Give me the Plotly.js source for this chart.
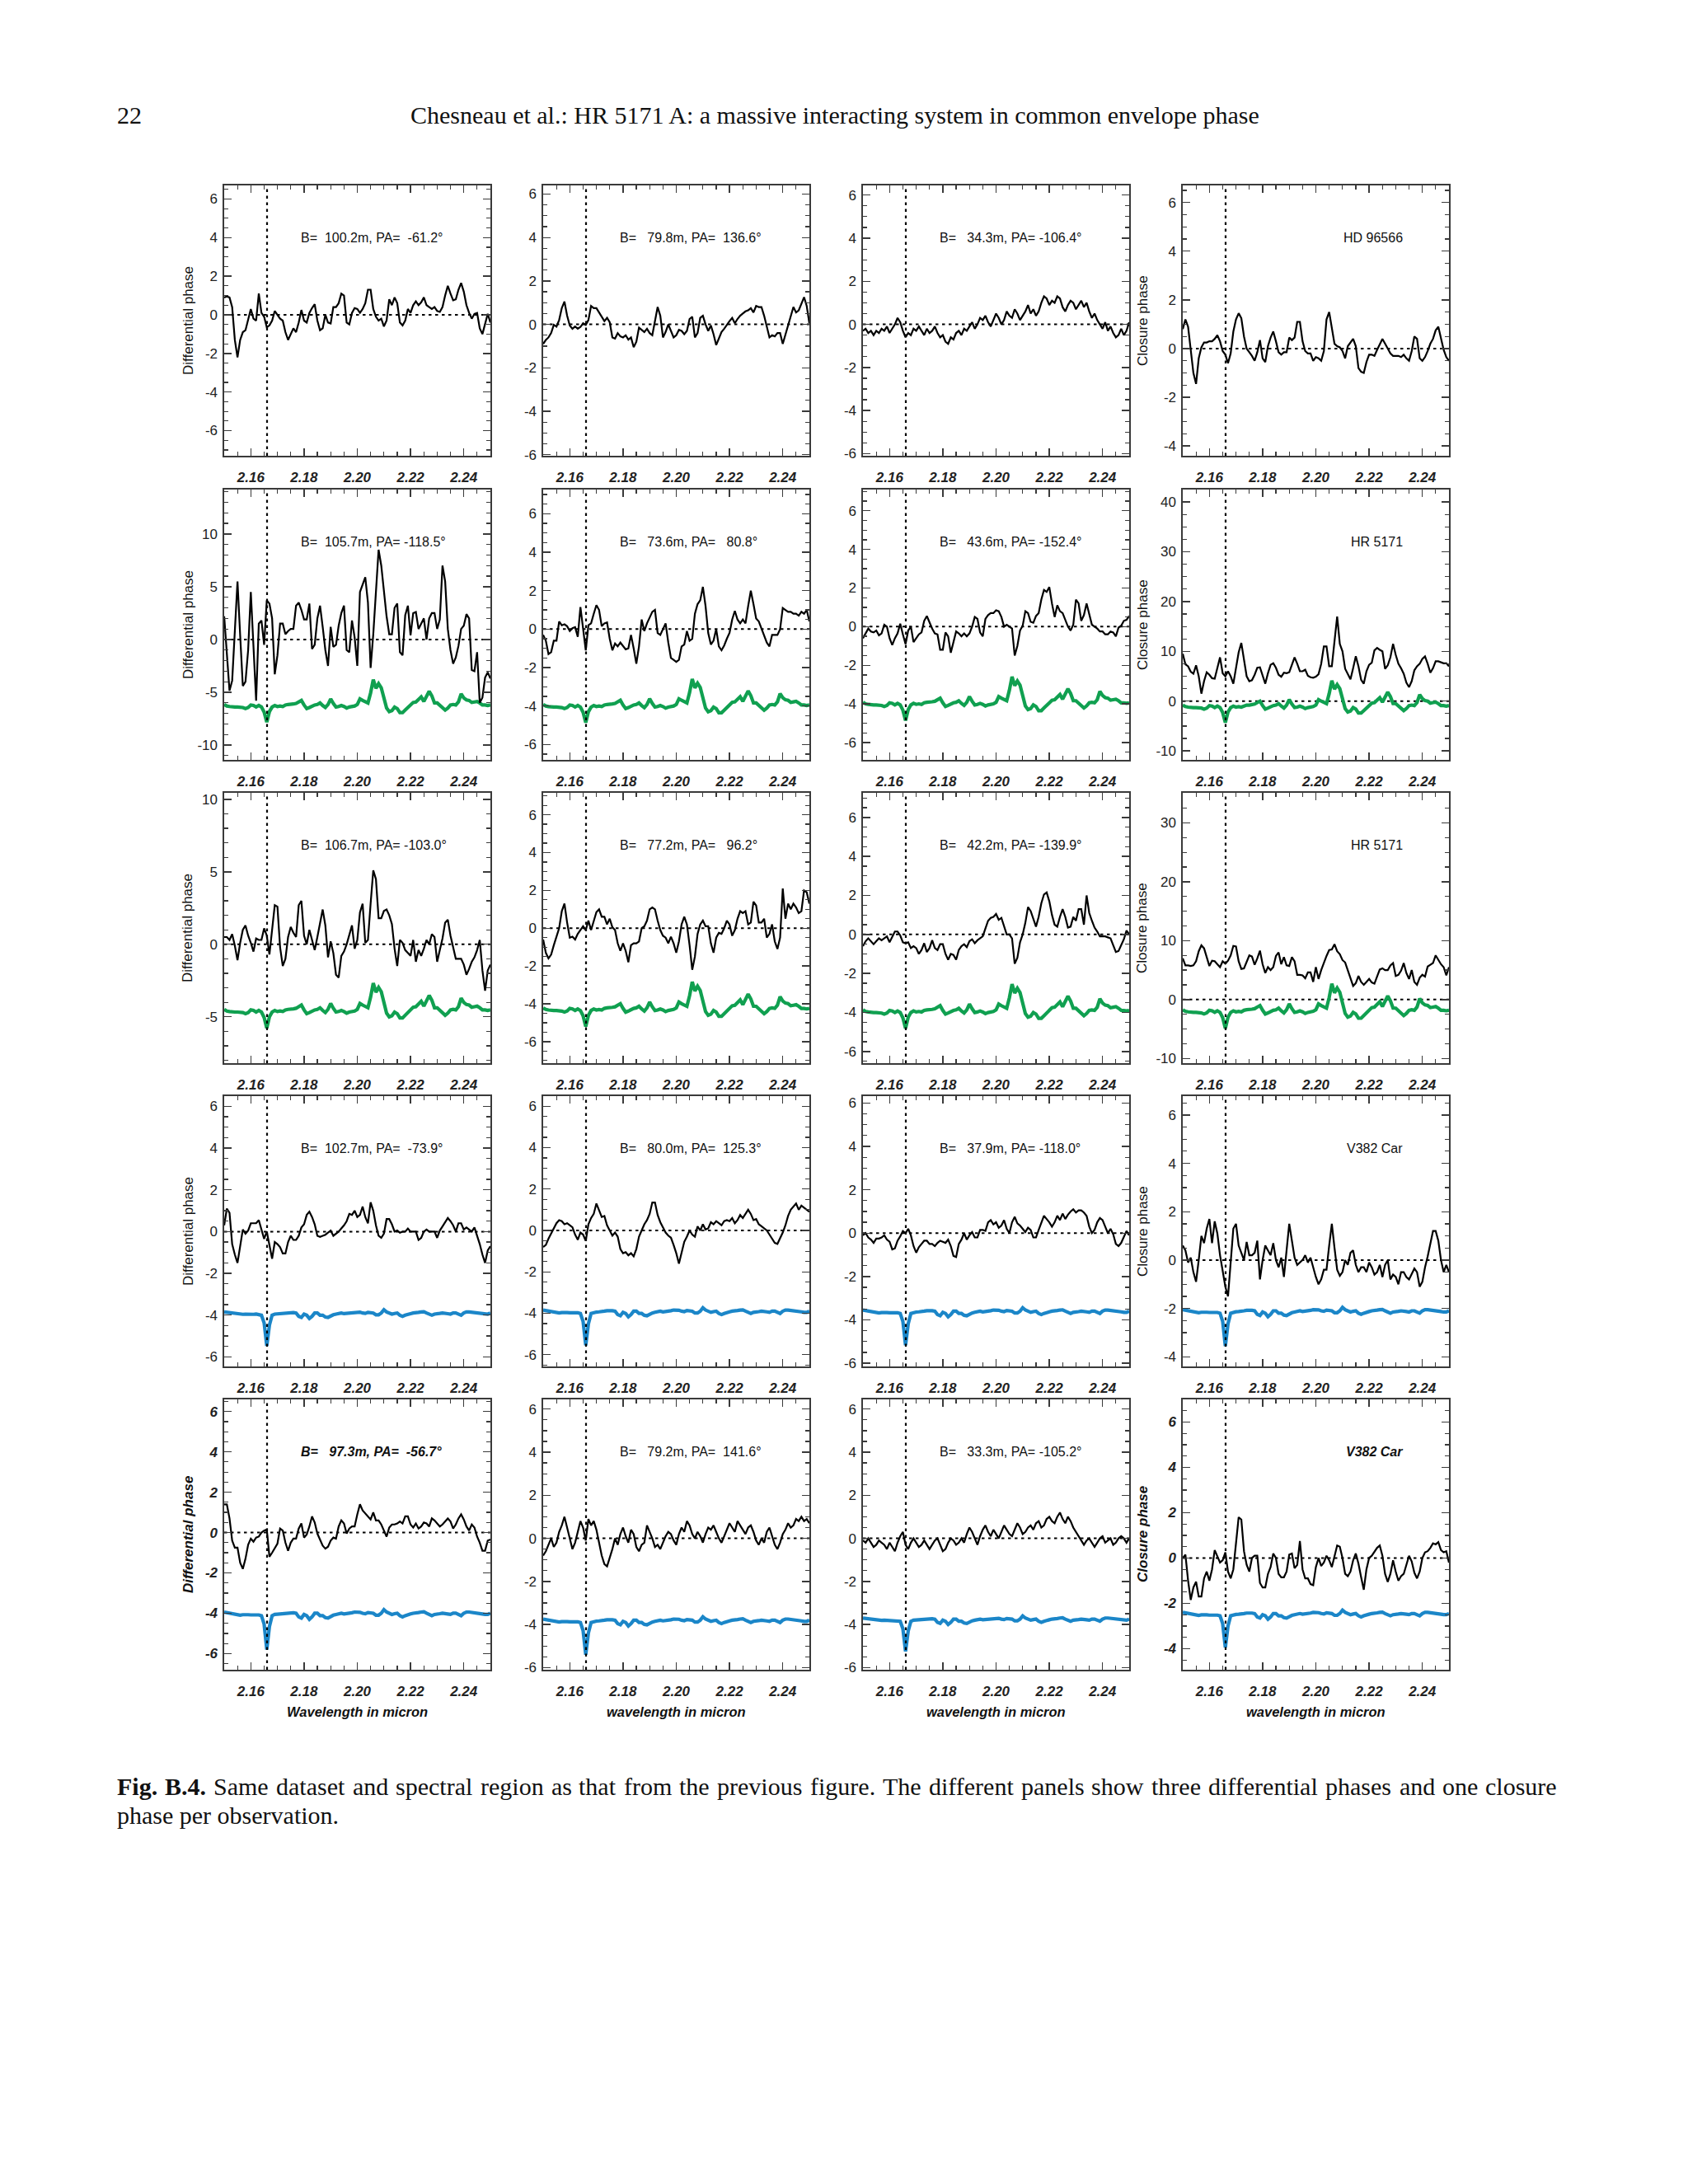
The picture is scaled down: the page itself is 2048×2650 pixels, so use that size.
<!DOCTYPE html>
<html><head><meta charset="utf-8">
<script src="https://cdn.plot.ly/plotly-3.0.1.min.js"></script>
<style>html,body{margin:0;padding:0;background:#fff}</style>
</head><body>
<div id="chart" style="width:2048px;height:2650px"></div>
<script>
// ---------------- DATA ----------------
const wavelength = [2.150,2.151,2.152,2.153,2.154,2.155,2.156,2.157,2.158,2.159,2.160,2.161,2.162,2.163,2.164,2.165,2.166,2.167,2.168,2.169,
2.170,2.171,2.172,2.173,2.174,2.175,2.176,2.177,2.178,2.179,2.180,2.181,2.182,2.183,2.184,2.185,2.186,2.187,2.188,2.189,
2.190,2.191,2.192,2.193,2.194,2.195,2.196,2.197,2.198,2.199,2.200,2.201,2.202,2.203,2.204,2.205,2.206,2.207,2.208,2.209,
2.210,2.211,2.212,2.213,2.214,2.215,2.216,2.217,2.218,2.219,2.220,2.221,2.222,2.223,2.224,2.225,2.226,2.227,2.228,2.229,
2.230,2.231,2.232,2.233,2.234,2.235,2.236,2.237,2.238,2.239,2.240,2.241,2.242,2.243,2.244,2.245,2.246,2.247,2.248,2.249,2.250];
const brGamma = 2.1661;

// Row 1 (HD 96566)
const dphiR1C1 = [0.9,0.95,0.9,0.4,-1.3,-2.2,-1.3,-0.9,-0.8,-0.3,0.3,-0.2,-0.3,1.1,0.1,-0.1,-0.65,-0.55,-0.3,0.2,
0.0,-0.2,-0.3,-0.9,-1.3,-1.0,-0.7,-0.9,-0.4,0.25,-0.3,-0.4,0.1,0.35,0.55,-0.3,-0.8,-0.7,0.0,-0.4,
-0.45,0.4,0.4,0.6,1.1,1.0,-0.4,-0.5,0.1,0.35,0.3,0.1,0.3,0.6,1.3,1.3,0.3,-0.1,-0.3,-0.2,
-0.6,-0.3,0.8,0.5,0.9,0.6,-0.4,-0.55,-0.3,0.3,0.1,0.5,0.7,0.5,0.65,0.9,0.5,0.4,0.3,0.4,
0.2,0.15,0.4,1.0,1.5,1.1,0.75,0.8,1.3,1.65,1.2,0.5,0.1,-0.2,0.05,0.1,-0.7,-1.0,-0.5,0.05,-0.4];
const dphiR1C2 = [-0.9,-0.72,-0.6,-0.4,-0.02,-0.1,0.2,0.75,1.05,0.4,-0.05,-0.2,-0.1,-0.2,-0.12,0.05,-0.02,0.2,0.85,0.75,
0.75,0.55,0.4,0.15,0.3,0.1,-0.6,-0.65,-0.4,-0.55,-0.6,-0.5,-0.7,-0.6,-1.05,-0.8,-0.15,-0.25,-0.35,-0.2,
-0.4,-0.5,0.2,0.8,0.4,-0.6,-0.35,0.0,-0.3,-0.6,-0.5,-0.25,-0.3,-0.45,-0.3,0.25,0.35,-0.6,-0.4,0.3,
0.4,0.0,-0.3,-0.05,-0.45,-0.95,-0.65,-0.35,-0.2,0.0,0.15,0.3,0.05,0.25,0.4,0.5,0.6,0.65,0.75,0.55,
0.85,0.8,0.8,0.4,-0.1,-0.6,-0.5,-0.55,-0.4,-0.4,-0.9,-0.45,-0.1,0.4,0.8,0.55,0.65,0.95,1.25,0.85,0.05];
const dphiR1C3 = [-0.3,-0.2,-0.4,-0.3,-0.5,-0.3,-0.4,-0.2,-0.3,-0.1,-0.4,-0.2,0.0,0.3,0.1,-0.3,-0.6,-0.4,-0.5,-0.2,
-0.3,-0.1,-0.3,-0.5,-0.2,-0.4,-0.3,-0.1,-0.4,-0.6,-0.5,-0.8,-0.9,-0.6,-0.7,-0.4,-0.3,-0.5,-0.2,-0.3,
-0.1,0.1,-0.2,0.0,0.3,0.2,0.4,0.1,-0.1,0.2,0.5,0.3,0.0,0.2,0.6,0.4,0.3,0.7,0.5,0.2,
0.4,0.6,0.9,0.5,0.7,0.4,0.6,1.0,1.3,1.2,0.9,1.1,1.0,1.3,1.2,0.8,0.6,0.9,1.1,1.0,
0.7,0.9,1.1,0.8,1.0,0.6,0.3,0.5,0.2,0.0,-0.2,0.1,-0.3,-0.1,-0.4,-0.6,-0.5,-0.2,-0.5,-0.3,0.1];
const cphiR1 = [0.8,1.2,0.9,-0.05,-1.0,-1.45,-0.4,0.05,0.25,0.25,0.3,0.3,0.4,0.55,0.3,-0.1,-0.25,-0.6,-0.2,0.7,
1.2,1.45,1.25,0.5,0.0,-0.15,-0.3,-0.5,-0.15,0.35,-0.4,-0.55,0.1,0.45,0.7,0.3,-0.15,-0.25,-0.15,-0.15,
0.45,0.35,0.45,1.1,1.1,0.3,-0.1,-0.2,-0.2,-0.5,-0.35,-0.4,-0.5,-0.1,1.2,1.5,0.8,0.2,0.1,0.05,
-0.1,-0.4,0.1,0.25,0.4,0.1,-0.8,-0.95,-1.0,-0.55,-0.25,-0.25,-0.3,-0.05,0.2,0.4,0.2,0.0,-0.2,-0.3,
-0.3,-0.3,-0.35,-0.25,-0.4,-0.5,-0.1,0.5,0.4,-0.4,-0.5,-0.35,-0.1,0.2,0.4,0.75,0.9,0.4,-0.05,-0.35,-0.5];

// Row 2 (HR 5171)
const dphiR2C1 = [2.2,-1.0,-4.85,-3.9,1.4,5.5,0.4,-4.4,-4.0,-1.0,4.5,-1.0,-5.8,1.5,1.8,-0.5,3.7,3.4,2.0,-3.3,
-1.5,1.5,1.5,0.5,0.8,1.0,1.0,3.2,3.5,2.8,1.9,1.9,3.4,-0.9,-0.5,2.0,3.2,1.2,-1.0,-2.5,
1.2,-0.7,-0.5,1.3,2.5,3.2,-1.0,-1.2,1.8,0.2,-2.5,4.5,5.2,5.9,3.5,-2.7,0.5,5.0,8.5,7.0,
4.7,2.2,0.5,0.5,3.0,3.4,-1.2,-1.5,2.3,3.2,0.4,2.5,2.6,1.0,1.5,2.0,0.0,2.0,2.5,2.5,
1.0,1.9,7.0,5.5,1.0,-1.0,-2.3,-1.7,-0.6,1.0,1.3,2.4,2.0,-2.9,-3.0,-1.2,-6.0,-5.5,-3.6,-3.1,-3.7];
const dphiR2C2 = [-0.3,-0.6,-1.3,-1.2,-0.6,-0.6,0.4,0.2,0.25,0.15,-0.1,0.05,0.1,-0.4,1.15,-0.1,-1.1,0.2,0.3,0.8,
1.25,1.0,0.15,0.3,0.35,-0.5,-1.1,-0.75,-0.9,-0.7,-0.9,-1.05,-1.0,-0.3,-1.0,-1.8,-0.9,0.5,-0.1,0.3,
0.6,0.9,1.0,-0.2,-0.3,0.0,0.3,-0.7,-1.5,-1.6,-1.7,-1.6,-0.9,-0.8,-0.1,-0.6,-0.5,0.8,1.3,1.5,
2.2,1.2,-0.2,-0.8,-0.6,0.0,-0.9,-1.1,-0.85,-0.5,-0.2,0.5,0.95,0.5,0.3,0.5,0.3,1.2,2.0,1.3,
0.55,0.4,0.05,-0.3,-0.7,-0.9,-0.3,-0.3,-0.3,0.0,1.1,1.0,0.9,0.9,0.8,0.8,0.7,0.9,0.8,1.0,0.4];
const dphiR2C3 = [-0.6,-0.35,-0.1,-0.25,-0.3,-0.2,-0.45,-0.35,0.1,0.0,-0.6,-0.95,-0.6,-0.35,0.15,-0.4,-0.9,-0.2,0.0,-0.8,
-0.6,-0.4,-0.3,0.3,0.55,0.2,-0.1,-0.35,-0.4,-1.2,-1.2,-0.3,-0.5,-1.35,-0.8,-0.25,-0.35,-0.5,-0.35,-0.5,
-0.35,0.0,0.5,0.4,-0.3,-0.5,0.4,0.6,0.7,0.7,0.85,0.8,0.5,0.0,0.1,0.0,-0.1,-1.5,-1.0,-0.2,
0.05,0.8,0.7,0.25,0.2,0.55,0.7,1.4,1.9,1.8,2.05,1.2,0.5,1.1,0.8,0.7,0.35,0.0,-0.2,0.1,
1.4,1.2,0.3,0.6,1.2,0.7,0.1,0.0,-0.1,-0.25,-0.25,-0.4,-0.4,-0.25,-0.3,-0.5,-0.05,0.05,0.3,0.35,0.55];
const cphiR2 = [9.5,7.4,7.0,5.9,5.5,7.2,5.0,1.5,4.0,5.8,5.3,4.6,4.5,6.5,8.8,5.6,5.0,6.0,5.0,3.5,
6.8,9.8,11.7,8.0,5.0,4.0,4.2,5.3,6.7,6.8,5.0,3.5,5.6,7.3,7.6,6.7,5.3,4.9,5.7,5.6,
5.8,7.2,8.8,7.5,6.0,6.0,6.3,5.1,4.8,4.7,4.9,5.4,7.5,11.0,11.0,7.0,7.0,12.0,17.0,11.5,
10.0,6.5,5.4,4.4,6.6,9.0,7.0,4.3,3.5,6.0,7.3,7.7,10.2,10.7,10.3,10.0,6.5,7.2,8.8,11.5,
9.3,7.5,6.6,5.5,3.7,2.8,4.0,6.2,7.0,7.5,8.5,9.0,7.5,5.7,6.6,8.0,8.0,7.8,7.6,7.6,7.0];

// Row 3 (HR 5171)
const dphiR3C1 = [0.5,0.5,0.3,0.7,-0.1,-1.1,0.1,1.0,1.3,0.6,0.1,-0.5,0.4,0.3,0.3,1.1,0.6,-0.7,1.0,2.7,
2.6,-0.2,-1.5,-1.0,0.5,1.2,0.8,0.5,2.7,3.0,0.6,0.0,1.0,0.3,-0.4,0.5,1.4,2.4,1.3,-0.9,
0.2,-0.6,-2.1,-2.3,-0.8,-0.5,0.0,0.7,1.3,-0.3,0.3,2.2,2.8,0.1,0.3,2.8,5.1,4.5,1.8,1.8,
2.3,2.4,2.0,1.4,-0.3,-1.5,0.3,0.1,-0.4,-0.6,-0.8,0.3,-1.2,-0.4,-0.8,-0.3,0.3,0.0,0.7,0.5,
-1.2,-0.4,0.4,1.5,1.7,0.6,-0.3,-1.0,-1.0,-1.0,-1.4,-2.1,-1.7,-1.2,-0.9,-0.4,0.3,-1.8,-3.2,-1.8,-1.4];
const dphiR3C2 = [-0.6,-1.3,-1.6,-1.4,-0.9,-0.4,0.0,0.9,1.3,0.3,-0.5,-0.45,-0.6,-0.3,-0.1,0.1,-0.1,0.4,-0.1,0.4,
0.85,1.0,0.6,0.6,0.2,0.5,0.05,-0.1,-0.8,-1.2,-0.8,-1.2,-1.8,-0.9,-0.8,-0.8,-0.7,0.0,0.1,0.4,
1.0,1.1,1.0,0.4,-0.1,-0.4,-0.5,-0.8,-0.45,-0.8,-1.3,-0.7,0.2,0.6,0.2,-0.9,-2.2,-1.5,-0.3,0.2,
0.4,0.1,0.1,-0.8,-1.3,-0.5,-0.25,-0.3,0.0,0.4,0.2,-0.4,-0.1,0.5,0.9,0.8,0.9,0.2,0.3,1.4,
1.2,0.3,0.3,0.5,-0.5,-0.3,0.2,-0.7,-1.1,-0.5,2.1,0.5,1.3,1.0,1.3,1.1,0.8,0.9,2.0,1.9,1.3];
const dphiR3C3 = [-0.6,-0.35,-0.2,-0.35,-0.5,-0.35,-0.2,-0.3,-0.2,-0.1,-0.4,-0.15,0.15,0.15,-0.05,-0.4,-0.45,-0.4,-0.7,-0.6,
-0.7,-1.0,-0.8,-0.45,-0.9,-0.7,-0.3,-0.7,-0.8,-0.5,-0.5,-1.0,-1.3,-1.0,-1.05,-1.3,-0.8,-0.6,-0.5,-0.65,
-0.35,-0.25,-0.45,-0.3,-0.2,-0.1,0.3,0.7,0.85,0.9,1.05,0.75,0.85,0.4,0.0,0.0,-0.2,-1.5,-1.2,-0.4,
0.0,0.6,1.4,1.2,0.8,0.4,0.9,1.6,2.05,2.15,1.7,1.0,0.5,0.4,0.9,1.3,0.9,0.35,0.4,0.9,
0.7,1.3,1.3,0.5,2.0,1.1,0.7,0.35,0.15,-0.1,-0.1,-0.1,-0.15,-0.2,-0.55,-0.9,-0.85,-0.55,-0.25,0.2,0.0];
const cphiR3 = [7.0,5.8,5.8,5.7,5.8,6.5,8.2,9.2,8.7,7.0,5.7,6.6,6.5,6.0,5.5,6.5,6.1,6.6,7.5,9.1,
9.0,6.5,5.2,5.3,6.3,7.5,7.3,5.9,7.0,8.3,6.0,4.5,5.5,5.0,5.5,7.4,8.0,6.0,7.2,5.8,
5.7,7.2,6.5,4.2,4.2,4.1,3.6,4.6,4.6,3.0,5.5,3.5,5.0,6.3,7.4,8.4,8.5,9.4,8.2,7.7,
6.7,6.3,5.0,3.7,2.3,2.8,4.0,3.0,2.5,3.0,3.5,2.9,2.7,3.9,5.1,5.3,5.0,5.0,5.8,6.2,
4.0,4.2,4.9,6.2,4.5,3.5,5.0,3.0,2.5,3.7,4.2,3.9,5.6,5.9,6.2,7.5,6.8,6.0,5.5,4.1,5.5];

// Row 4 (V382 Car)
const dphiR4C1 = [0.3,1.1,0.9,-0.6,-1.1,-1.5,-0.7,0.1,-0.1,0.05,0.4,0.4,0.4,0.55,0.05,-0.35,0.0,-0.7,-1.3,-0.5,
-0.6,-0.75,-1.05,-1.05,-0.5,-0.2,-0.4,-0.4,-0.2,0.2,0.35,0.8,0.95,0.7,0.35,-0.2,-0.25,-0.2,-0.15,-0.05,
0.05,-0.2,-0.1,0.0,0.15,0.3,0.5,0.85,0.8,1.0,0.7,0.8,1.2,0.7,0.4,1.4,1.0,0.3,-0.2,-0.3,
-0.1,0.6,0.6,0.35,0.0,0.05,-0.05,0.0,0.0,0.15,0.0,0.0,0.0,-0.4,-0.3,0.0,0.1,0.0,0.0,0.0,
-0.3,0.05,0.25,0.45,0.65,0.5,0.3,0.0,0.4,0.4,0.1,0.2,0.1,0.0,0.2,-0.2,-0.6,-1.1,-1.5,-0.9,-0.7];
const dphiR4C2 = [-0.8,-0.7,-0.4,-0.15,0.05,0.35,0.5,0.45,0.3,0.35,0.25,0.15,-0.2,-0.45,-0.1,-0.2,-0.5,0.3,0.6,0.8,
1.3,1.0,0.65,0.7,0.25,0.0,-0.25,-0.1,-0.3,-0.9,-1.1,-1.05,-1.2,-1.1,-1.25,-0.9,-0.3,0.0,0.3,0.5,
0.8,1.35,1.35,0.75,0.4,0.15,-0.1,-0.25,-0.35,-0.7,-1.1,-1.6,-1.1,-0.55,-0.3,0.0,-0.2,-0.3,0.2,0.0,
0.3,0.05,0.1,0.4,0.3,0.45,0.35,0.25,0.45,0.5,0.45,0.6,0.35,0.5,0.75,0.6,0.8,1.0,0.8,0.5,
0.55,0.3,0.2,0.1,0.0,-0.2,-0.4,-0.6,-0.65,-0.4,-0.1,0.25,0.7,1.0,1.15,1.3,1.0,1.2,1.1,1.0,0.9];
const dphiR4C3 = [-0.1,0.0,-0.2,-0.3,-0.45,-0.25,-0.25,-0.2,-0.1,-0.3,-0.4,-0.75,-0.7,-0.35,-0.15,0.1,0.0,0.2,-0.1,-0.6,
-0.9,-0.65,-0.5,-0.35,-0.35,-0.5,-0.5,-0.6,-0.45,-0.35,-0.4,-0.45,-0.3,-0.6,-1.05,-1.1,-0.5,-0.3,0.0,-0.3,
-0.1,0.05,-0.2,-0.2,0.15,0.15,0.1,0.5,0.6,0.4,0.5,0.25,0.35,0.6,0.2,0.0,0.5,0.75,0.45,0.35,
0.2,0.05,0.25,0.15,-0.2,-0.2,0.15,0.5,0.8,0.65,0.5,0.3,0.5,0.8,0.6,0.9,0.65,0.85,1.0,1.1,
0.95,1.05,1.05,0.95,0.8,0.3,0.0,0.15,0.5,0.7,0.6,0.3,0.0,0.2,-0.05,-0.5,-0.6,-0.45,-0.15,0.1,-0.1];
const cphiR4 = [0.6,0.4,-0.1,0.1,-0.5,-0.9,0.0,1.0,0.7,1.3,1.7,0.7,1.6,1.1,0.2,-0.5,-1.1,-1.5,0.0,1.3,
1.5,0.6,0.3,0.0,0.75,0.2,0.2,0.3,0.8,-0.8,0.0,0.6,0.4,0.2,0.7,0.0,-0.3,0.1,-0.7,0.4,
1.5,0.8,0.1,-0.2,-0.1,0.0,0.2,-0.1,0.1,-0.3,-0.7,-1.0,-0.8,-0.4,-0.4,0.6,1.5,0.5,-0.4,-0.65,
-0.5,0.0,-0.2,0.3,0.4,-0.2,-0.5,-0.3,-0.3,-0.5,-0.1,-0.3,-0.6,-0.5,-0.2,-0.7,-0.2,0.0,-0.8,-0.6,
-0.7,-1.0,-0.5,-0.5,-0.7,-0.8,-0.6,-0.35,-0.5,-1.1,-0.9,-0.3,0.15,0.7,1.2,1.2,0.8,0.0,-0.5,-0.2,-0.5];

// Row 5 (V382 Car)
const dphiR5C1 = [1.4,1.4,0.7,-0.4,-0.75,-0.75,-1.5,-1.8,-1.3,-0.6,-0.3,-0.45,-0.25,-0.2,0.0,0.1,0.15,-1.2,-1.0,-0.8,
-0.55,0.2,0.1,-0.5,-0.9,-0.5,-0.3,-0.3,0.2,0.45,-0.25,-0.1,0.3,0.8,0.5,-0.05,-0.35,-0.65,-0.8,-0.7,
-0.4,-0.25,-0.3,0.3,0.6,0.45,-0.05,0.2,0.3,0.3,0.9,1.4,1.1,0.95,0.8,0.65,1.0,0.6,0.6,0.4,
0.1,-0.2,0.25,0.4,0.4,0.45,0.55,0.45,0.8,0.8,0.4,0.25,0.45,0.2,0.3,0.5,0.45,0.3,0.7,0.6,
0.45,0.3,0.4,0.55,0.7,0.55,0.2,0.4,0.7,0.9,0.65,0.3,0.1,0.4,0.25,-0.2,-0.5,-0.9,-0.9,-0.4,-0.35];
const dphiR5C2 = [-0.8,-0.6,-0.3,0.0,-0.4,-0.2,0.3,0.6,1.0,0.5,0.0,-0.5,-0.2,0.3,0.8,0.5,-0.1,0.9,0.6,0.8,
0.4,-0.2,-0.8,-1.2,-1.3,-0.9,-0.5,0.0,-0.3,0.2,0.5,0.1,-0.2,0.4,0.2,-0.4,-0.6,-0.3,-0.2,0.6,
0.3,0.0,-0.4,-0.3,-0.5,-0.2,0.1,0.3,0.2,-0.1,-0.3,0.2,0.5,0.3,0.8,0.6,0.2,0.0,0.3,0.1,
-0.2,0.2,0.5,0.4,0.6,0.3,0.0,-0.2,0.1,0.4,0.7,0.5,0.3,0.8,0.6,0.4,0.2,0.5,0.6,0.3,
-0.1,-0.3,0.0,-0.2,0.3,0.5,0.1,-0.3,-0.5,-0.2,0.2,0.4,0.7,0.5,0.6,0.9,0.8,1.0,0.8,0.9,0.7];
const dphiR5C3 = [-0.1,-0.2,0.0,-0.2,-0.4,-0.3,-0.1,-0.2,-0.3,-0.5,-0.2,-0.4,-0.6,-0.2,0.1,0.3,-0.3,-0.5,-0.2,0.0,
-0.2,-0.4,-0.3,-0.1,-0.3,-0.5,-0.3,-0.1,0.0,-0.3,-0.6,-0.5,-0.2,0.0,-0.1,-0.3,-0.2,0.0,-0.2,0.2,
0.5,0.3,0.0,-0.3,0.1,0.4,0.6,0.3,0.1,0.4,0.2,0.0,0.3,0.6,0.4,0.2,0.1,0.4,0.7,0.5,
0.2,0.3,0.5,0.6,0.4,0.7,0.8,0.5,0.6,0.9,1.0,0.8,0.7,1.0,1.2,0.9,0.7,1.0,0.8,0.5,
0.3,0.1,-0.1,-0.3,-0.1,0.0,-0.2,-0.4,-0.2,0.0,0.1,-0.2,-0.1,0.0,-0.3,-0.2,0.0,0.1,0.0,-0.2,0.0];
const cphiR5 = [0.0,0.15,-1.0,-1.85,-1.3,-1.05,-1.7,-1.7,-0.9,-0.6,-1.0,-0.5,0.35,0.05,-0.2,-0.1,0.25,-0.6,-0.9,-0.5,
0.8,1.8,1.7,0.3,-0.3,-0.6,0.0,0.1,0.1,-1.1,-1.3,-1.3,-0.7,-0.4,0.2,0.0,-0.7,-0.85,-0.85,-0.6,
0.15,0.2,-0.45,-0.3,0.75,-0.5,-0.9,-0.9,-1.15,-1.2,-0.4,0.0,-0.35,-0.2,0.1,-0.1,-0.4,0.1,0.55,0.5,
0.0,-0.7,-0.8,-0.6,-0.1,0.2,-0.25,-0.85,-1.4,-0.5,0.0,0.1,0.3,0.45,0.55,0.1,-0.7,-1.05,-0.7,-0.1,
-0.6,-1.0,-0.8,-0.7,-0.3,0.1,-0.15,-0.65,-0.9,-0.6,0.0,0.25,0.3,0.45,0.65,0.6,0.7,0.35,0.25,0.3,-0.2];

// HR 5171 spectrum (relative to continuum, arbitrary units) drawn in green
const hr5171Spectrum = [0.3,0.0,-0.1,-0.2,-0.2,-0.2,-0.2,-0.3,-0.5,-0.3,0.2,0.1,-0.2,0.1,-0.2,-1.2,-3.2,-1.1,-0.2,0.1,
-0.1,0.0,-0.1,0.2,0.3,0.3,0.4,0.5,0.8,1.1,0.2,-0.5,-0.3,0.0,0.2,0.3,0.6,0.1,-0.3,0.3,
1.4,0.5,-0.2,-0.1,0.1,-0.1,-0.4,-0.2,-0.1,0.0,0.3,1.4,1.1,0.8,0.6,2.6,5.2,3.5,4.4,3.6,
1.6,-0.4,-1.1,-0.9,-0.2,-0.5,-1.3,-1.3,-0.8,-0.3,0.2,0.7,0.8,1.3,1.8,0.9,1.9,2.9,2.0,0.6,
0.6,0.2,-0.2,-0.8,-0.4,0.2,0.3,0.2,0.8,2.4,1.6,1.2,1.1,0.7,0.8,0.9,0.6,0.2,0.2,0.1,0.2];
// V382 Car spectrum (relative to continuum) drawn in blue
const v382Spectrum = [0.05,0.03,0.02,0.0,-0.03,-0.05,-0.08,-0.06,-0.05,-0.06,-0.07,-0.06,-0.05,-0.07,-0.1,-0.45,-1.5,-0.55,-0.1,-0.05,
-0.04,-0.03,0.0,0.0,0.02,0.03,0.02,0.0,-0.15,-0.2,-0.05,-0.1,-0.25,-0.15,0.0,0.0,-0.1,-0.1,-0.18,-0.2,
-0.12,-0.08,-0.05,-0.02,0.0,-0.03,-0.02,0.0,0.02,0.05,0.06,0.04,0.0,-0.02,0.03,0.02,0.0,-0.08,-0.08,0.0,
0.15,0.05,-0.02,-0.05,-0.02,0.0,-0.1,-0.15,-0.1,-0.05,-0.03,0.0,0.0,0.03,0.05,0.06,0.0,-0.05,-0.1,-0.05,
-0.05,-0.02,0.0,0.0,-0.03,-0.05,0.0,0.0,-0.05,-0.1,0.0,0.05,0.05,0.04,0.02,0.0,-0.02,-0.03,-0.05,-0.05,0.0];
// offsets / scales of the spectra in each panel
const greenOffsetR2 = [-6.3,-4.0,-4.0,-1.1], greenScaleR2 = [0.48,0.27,0.27,1.0];
const greenOffsetR3 = [-4.6,-4.3,-3.95,-2.0], greenScaleR3 = [0.37,0.28,0.27,0.9];
const blueOffsetR4 = [-3.9,-3.9,-3.6,-2.1], blueScaleR4 = [1.05,1.1,1.05,0.97];
const blueOffsetR5 = [-4.0,-3.8,-3.75,-2.45], blueScaleR5 = [1.2,1.07,1.0,1.0];

const panelLabels = [
 ['B=  100.2m, PA=  -61.2°','B=   79.8m, PA=  136.6°','B=   34.3m, PA= -106.4°','HD 96566'],
 ['B=  105.7m, PA= -118.5°','B=   73.6m, PA=   80.8°','B=   43.6m, PA= -152.4°','HR 5171'],
 ['B=  106.7m, PA= -103.0°','B=   77.2m, PA=   96.2°','B=   42.2m, PA= -139.9°','HR 5171'],
 ['B=  102.7m, PA=  -73.9°','B=   80.0m, PA=  125.3°','B=   37.9m, PA= -118.0°','V382 Car'],
 ['B=   97.3m, PA=  -56.7°','B=   79.2m, PA=  141.6°','B=   33.3m, PA= -105.2°','V382 Car']];
const yRanges = [
 [[-7.3,6.7],[-6.05,6.4],[-6.1,6.45],[-4.4,6.7]],
 [[-11.4,14.2],[-6.8,7.26],[-6.9,7.1],[-11.8,42.5]],
 [[-8.2,10.45],[-7.14,7.16],[-6.6,7.26],[-10.8,35.1]],
 [[-6.46,6.49],[-6.57,6.49],[-6.15,6.32],[-4.4,6.78]],
 [[-6.8,6.6],[-6.1,6.45],[-6.1,6.45],[-4.93,7.0]]];
const yTickStep = [[2,2,2,2],[5,2,2,10],[5,2,2,10],[2,2,2,2],[2,2,2,2]];
const xTickValues = [2.16, 2.18, 2.20, 2.22, 2.24];
const blackSeries = [
 [dphiR1C1,dphiR1C2,dphiR1C3,cphiR1],
 [dphiR2C1,dphiR2C2,dphiR2C3,cphiR2],
 [dphiR3C1,dphiR3C2,dphiR3C3,cphiR3],
 [dphiR4C1,dphiR4C2,dphiR4C3,cphiR4],
 [dphiR5C1,dphiR5C2,dphiR5C3,cphiR5]];
const spectrumRows = [null,
 {spec:hr5171Spectrum, off:greenOffsetR2, sc:greenScaleR2, color:'#10a050'},
 {spec:hr5171Spectrum, off:greenOffsetR3, sc:greenScaleR3, color:'#10a050'},
 {spec:v382Spectrum, off:blueOffsetR4, sc:blueScaleR4, color:'#1b86c8'},
 {spec:v382Spectrum, off:blueOffsetR5, sc:blueScaleR5, color:'#1b86c8'}];

// ---------------- LAYOUT ----------------
const W = 2048, H = 2650;
const colLeft = [272, 659, 1047, 1435], rowTop = [225, 594, 962, 1330, 1698], PW = 323, PH = 328;
const SANS = 'Liberation Sans, Arial, Helvetica, sans-serif';
const SERIF = 'Liberation Serif, Times New Roman, serif';
const AX = '#3a3a3a';
const nb = s => s.replace(/ /g, '\u00a0');

function yTicks(range, step) {
  const vals = [], txt = [];
  for (let v = Math.ceil(range[0] / step) * step; v <= range[1] + 1e-9; v += step) {
    const vv = Math.round(v * 1000) / 1000;
    vals.push(vv); txt.push(String(vv));   // plain hyphen-minus like the original
  }
  return {vals, txt};
}

const data = [], shapes = [], annotations = [];
const layout = {width: W, height: H, margin: {l:0, r:0, t:0, b:0}, paper_bgcolor:'#fff', plot_bgcolor:'#fff', showlegend:false};

for (let r = 0; r < 5; r++) {
  for (let c = 0; c < 4; c++) {
    const n = r * 4 + c + 1, sx = n === 1 ? '' : String(n);
    const xd = [colLeft[c] / W, (colLeft[c] + PW) / W];
    const yd = [1 - (rowTop[r] + PH) / H, 1 - rowTop[r] / H];
    const boldRow = (r === 4 && (c === 0 || c === 3));
    const step = yTickStep[r][c];
    const yt = yTicks(yRanges[r][c], step);
    layout['xaxis' + sx] = {
      domain: xd, anchor: 'y' + sx, range: [wavelength[0], wavelength[wavelength.length - 1]],
      showline: true, linecolor: AX, linewidth: 1.6, mirror: 'allticks',
      ticks: 'inside', ticklen: 9, tickwidth: 1.4, tickcolor: AX,
      tickmode: 'array', tickvals: xTickValues, ticktext: xTickValues.map(v => v.toFixed(2)),
      ticklabelstandoff: 10, tickangle: 0,
      tickfont: {family: SANS, size: 17, weight: 'bold', style: 'italic', color: '#222'},
      minor: {ticks: 'inside', ticklen: 5, tickwidth: 1.2, tickcolor: AX, tick0: 2.15, dtick: 0.005, showgrid: false},
      showgrid: false, zeroline: false, fixedrange: true
    };
    layout['yaxis' + sx] = {
      domain: yd, anchor: 'x' + sx, range: yRanges[r][c],
      showline: true, linecolor: AX, linewidth: 1.6, mirror: 'allticks',
      ticks: 'inside', ticklen: 9, tickwidth: 1.4, tickcolor: AX,
      tickmode: 'array', tickvals: yt.vals, ticktext: yt.txt, ticklabelstandoff: 3, tickangle: 0,
      tickfont: boldRow ? {family: SANS, size: 17, weight: 'bold', style: 'italic', color: '#222'}
                        : {family: SANS, size: 17, color: '#222'},
      minor: {ticks: 'inside', ticklen: 5, tickwidth: 1.2, tickcolor: AX, tick0: 0, dtick: (step === 5 ? 1 : step / 4), showgrid: false},
      showgrid: false, zeroline: false, fixedrange: true
    };
    // zero reference line
    data.push({x: [wavelength[0], wavelength[wavelength.length - 1]], y: [0, 0], xaxis: 'x' + sx, yaxis: 'y' + sx,
      mode: 'lines', line: {color: '#000', width: 2, dash: '3.5px,4.5px'}, hoverinfo: 'skip'});
    // spectrum
    const sr = spectrumRows[r];
    if (sr) {
      data.push({x: wavelength, y: sr.spec.map(v => sr.off[c] + sr.sc[c] * v), xaxis: 'x' + sx, yaxis: 'y' + sx,
        mode: 'lines', line: {color: sr.color, width: 4.2}, hoverinfo: 'skip'});
    }
    // phase
    data.push({x: wavelength, y: blackSeries[r][c], xaxis: 'x' + sx, yaxis: 'y' + sx,
      mode: 'lines', line: {color: '#000', width: 2.2}, hoverinfo: 'skip'});
    // Br gamma line
    shapes.push({type: 'line', xref: 'x' + sx, yref: 'y' + sx + ' domain', x0: brGamma, x1: brGamma, y0: 0, y1: 1,
      line: {color: '#000', width: 2.2, dash: '3.5px,4.5px'}});
    // label
    const isName = (c === 3);
    annotations.push({xref: 'paper', yref: 'paper', showarrow: false,
      x: isName ? (colLeft[c] + 0.833 * PW) / W : (colLeft[c] + 0.283 * PW) / W,
      y: 1 - (rowTop[r] + 0.195 * PH) / H,
      xanchor: isName ? 'right' : 'left', yanchor: 'middle',
      text: nb(panelLabels[r][c]),
      font: boldRow ? {family: SANS, size: 16, weight: 'bold', style: 'italic', color: '#111'}
                    : {family: SANS, size: 16, color: '#111'}});
  }
  // y axis titles
  const last = (r === 4);
  const tf = last ? {family: SANS, size: 17, weight: 'bold', style: 'italic', color: '#111'} : {family: SANS, size: 17, color: '#111'};
  annotations.push({xref: 'paper', yref: 'paper', showarrow: false, textangle: -90,
    x: 228 / W, y: 1 - (rowTop[r] + PH / 2) / H, xanchor: 'center', yanchor: 'middle',
    text: 'Differential phase', font: tf});
  annotations.push({xref: 'paper', yref: 'paper', showarrow: false, textangle: -90,
    x: 1386 / W, y: 1 - (rowTop[r] + PH / 2) / H, xanchor: 'center', yanchor: 'middle',
    text: 'Closure phase', font: tf});
}
// x axis titles (bottom row)
const xTitles = ['Wavelength in micron', 'wavelength in micron', 'wavelength in micron', 'wavelength in micron'];
for (let c = 0; c < 4; c++) {
  annotations.push({xref: 'paper', yref: 'paper', showarrow: false,
    x: (colLeft[c] + PW / 2) / W, y: 1 - 2077 / H, xanchor: 'center', yanchor: 'middle',
    text: xTitles[c], font: {family: SANS, size: 16.5, weight: 'bold', style: 'italic', color: '#111'}});
}
// page header
annotations.push({xref: 'paper', yref: 'paper', showarrow: false, x: 140 / W, y: 1 - 139 / H, xanchor: 'left', yanchor: 'middle',
  text: '22', font: {family: SERIF, size: 30, color: '#111'}});
annotations.push({xref: 'paper', yref: 'paper', showarrow: false, x: 1013 / W, y: 1 - 139 / H, xanchor: 'center', yanchor: 'middle',
  text: 'Chesneau et al.: HR 5171 A: a massive interacting system in common envelope phase', font: {family: SERIF, size: 30, color: '#111'}});

// caption: first line justified between x=142 and x=1889 (word by word)
const capSize = 30;
const capWords = ['Fig.', 'B.4.', 'Same', 'dataset', 'and', 'spectral', 'region', 'as', 'that', 'from', 'the', 'previous', 'figure.',
  'The', 'different', 'panels', 'show', 'three', 'differential', 'phases', 'and', 'one', 'closure'];
const cv = document.createElement('canvas').getContext('2d');
const widths = capWords.map((w, i) => {
  cv.font = (i < 2 ? 'bold ' : '') + capSize + 'px "Liberation Serif", "Times New Roman", serif';
  return cv.measureText(w).width;
});
const capLeft = 142, capRight = 1889;
const totalW = widths.reduce((a, b) => a + b, 0);
const gap = (capRight - capLeft - totalW) / (capWords.length - 1);
let cx = capLeft;
capWords.forEach((w, i) => {
  annotations.push({xref: 'paper', yref: 'paper', showarrow: false, x: (cx + widths[i] / 2) / W, y: 1 - 2167 / H,
    xanchor: 'center', yanchor: 'middle', text: i < 2 ? '<b>' + w + '</b>' : w,
    font: {family: SERIF, size: capSize, color: '#111'}});
  cx += widths[i] + gap;
});
annotations.push({xref: 'paper', yref: 'paper', showarrow: false, x: 140 / W, y: 1 - 2202 / H, xanchor: 'left', yanchor: 'middle',
  text: 'phase per observation.', font: {family: SERIF, size: capSize, color: '#111'}});

layout.shapes = shapes;
layout.annotations = annotations;
Plotly.newPlot('chart', data, layout, {staticPlot: true, displayModeBar: false});
</script>
</body></html>
